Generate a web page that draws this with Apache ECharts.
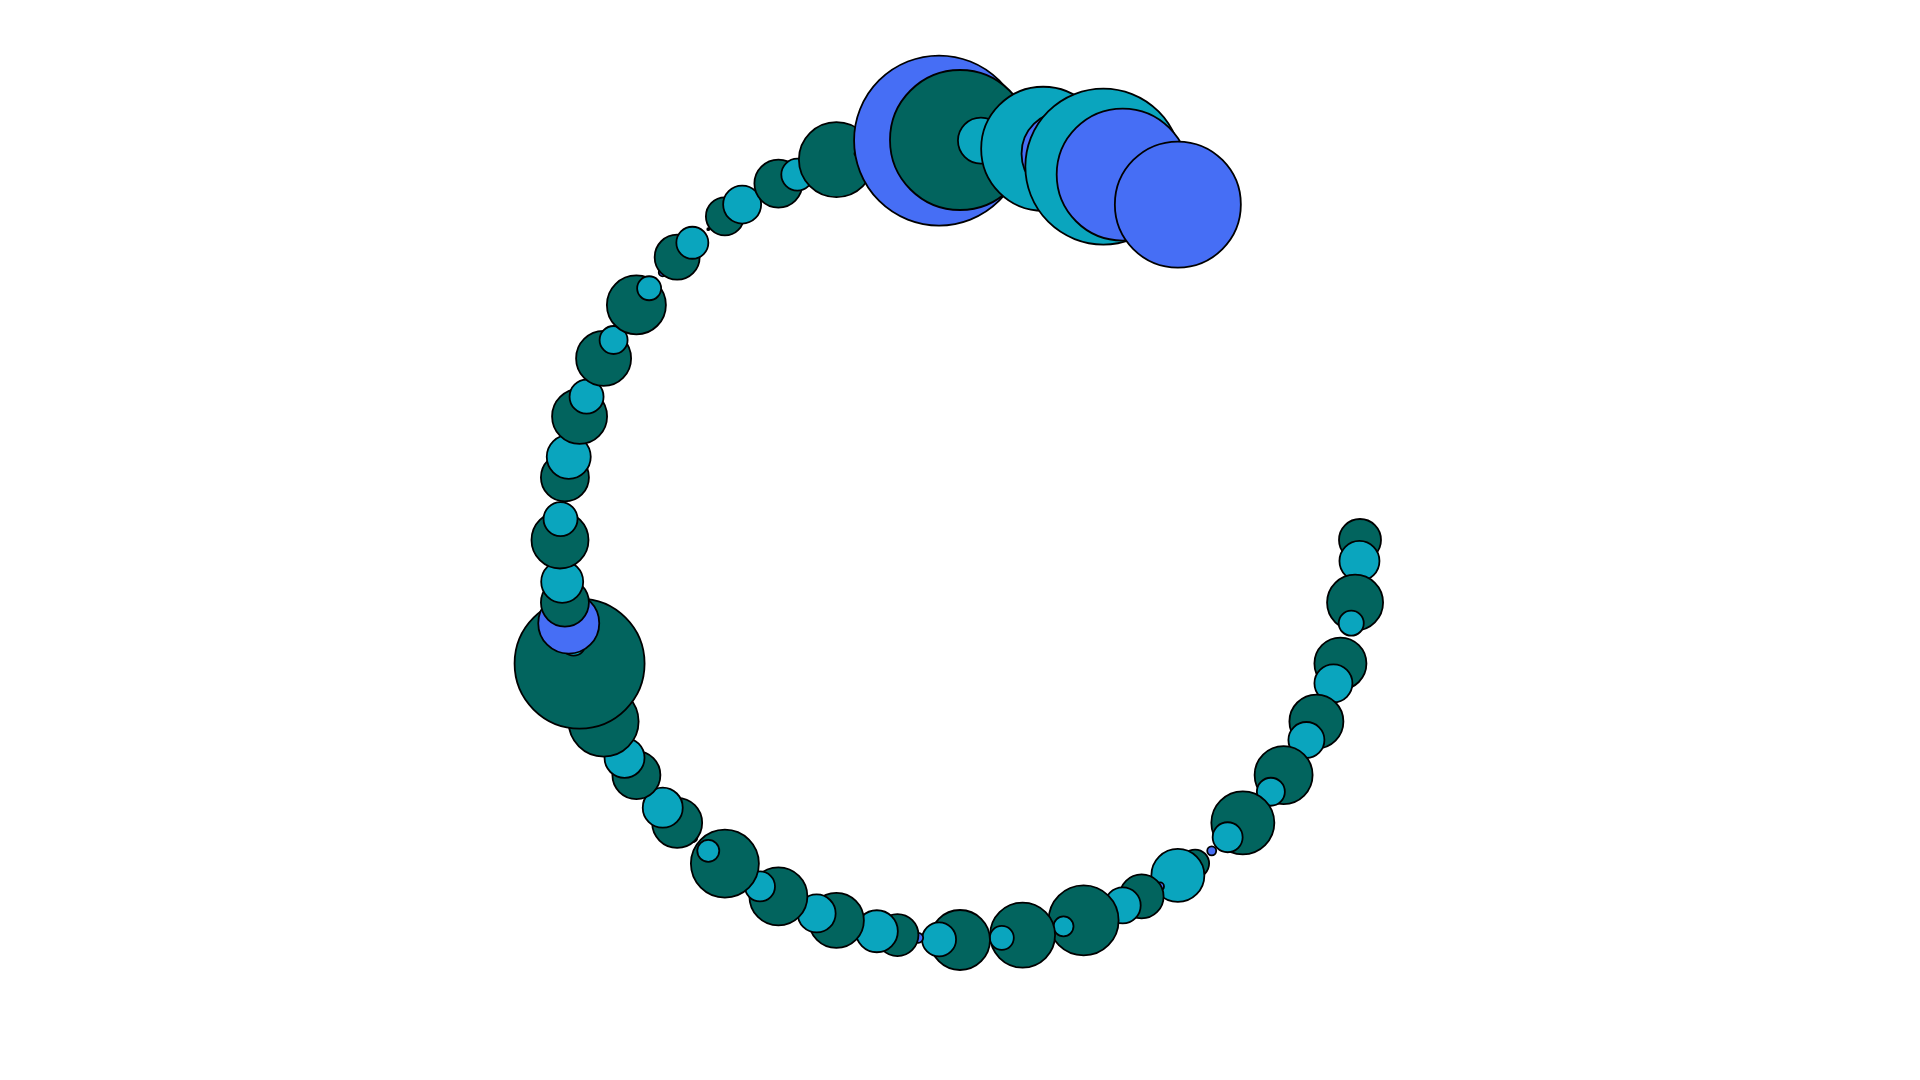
<!DOCTYPE html>
<html>
<head>
<meta charset="utf-8">
<title>Bubble ring</title>
<script src="https://cdn.jsdelivr.net/npm/echarts@6/dist/echarts.min.js"></script>
<style>
  html, body { margin: 0; padding: 0; background: #ffffff; }
  #main { width: 1920px; height: 1080px; }
</style>
</head>
<body>
<div id="main"></div>
<script>
  // one slot every 3 degrees, three kinds per group (dark, cyan, blue)
  const groups = Array.from({ length: 34 }, (_, i) => 'G' + (i + 1));

  // bubble diameters per group, null = no bubble
  const darkSizes = [42, 56, 52, 54, 58, 63, 28, 44, 70, 65, 60, 42, 55, 58, 68, 50, 48, 70,
    130, 48, 57, 48, 55, 55, 59, 45, 38, 48, 75, null, 140, 76, null, null];
  const cyanSizes = [40, 25, 38, 36, 28, 30, 53, 36, 20, 24, 34, 42, 38, 30, 22, 40, 40, null,
    24, 42, 34, 44, 34, 28, 24, 32, 38, 32, 4, null, 46, 124, 156, null];
  const blueSizes = [null, null, null, null, null, 9, 8, null, null, null, 10, null, null, null, 10, null, null, null,
    61, null, null, null, null, null, 8, 2, null, null, null, 170, null, 84, 132, 126];

  const kindColors = ['#02645e', '#0aa5be', '#466ef5'];
  const groupStep = 9;
  const kindStep = 3;

  let chart = echarts.init(document.getElementById('main'));

  // single series so later slots sit on top of earlier ones
  let points = [];
  groups.forEach((name, g) => {
    [darkSizes, cyanSizes, blueSizes].forEach((sizes, k) => {
      if (sizes[g] == null) return;
      points.push({
        name: name,
        value: [1, g * groupStep + k * kindStep, sizes[g]],
        itemStyle: { color: kindColors[k] }
      });
    });
  });

  chart.setOption({
    animation: false,
    backgroundColor: '#ffffff',
    polar: {
      center: ['50%', '50%'],
      radius: 400
    },
    angleAxis: {
      type: 'value',
      min: 0,
      max: 360,
      startAngle: 0,
      clockwise: true,
      show: false
    },
    radiusAxis: {
      type: 'value',
      min: 0,
      max: 1,
      show: false
    },
    series: [
      {
        type: 'scatter',
        coordinateSystem: 'polar',
        clip: false,
        symbolSize: (val) => val[2],
        itemStyle: {
          borderColor: '#000000',
          borderWidth: 1.8,
          opacity: 1
        },
        emphasis: { disabled: true },
        data: points
      }
    ]
  });
</script>
</body>
</html>
